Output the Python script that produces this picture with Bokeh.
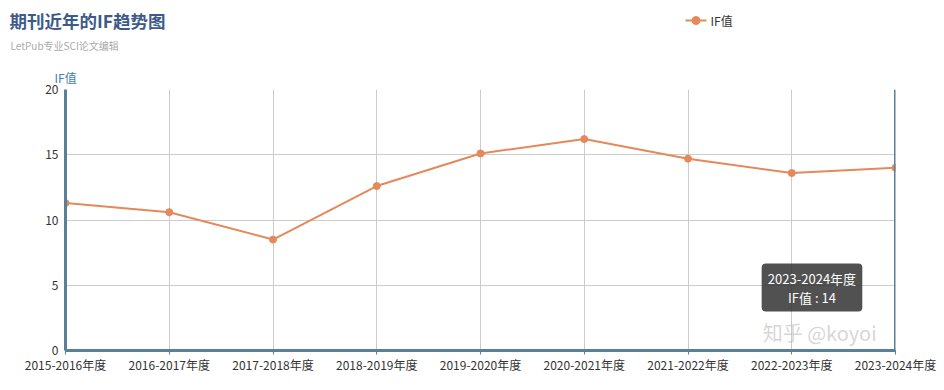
from bokeh.plotting import figure
from bokeh.layouts import column
from bokeh.models import Range1d, FixedTicker, Label, BoxAnnotation, Span, Title
from bokeh.core.properties import value
from bokeh.embed import file_html
from bokeh.resources import INLINE

categories = ["2015-2016年度", "2016-2017年度", "2017-2018年度", "2018-2019年度",
              "2019-2020年度", "2020-2021年度", "2021-2022年度", "2022-2023年度", "2023-2024年度"]
if_values = [11.3, 10.6, 8.5, 12.6, 15.1, 16.2, 14.7, 13.6, 14.0]
y_ticks = [0, 5, 10, 15, 20]
series_name = "IF值"

FONT = "Noto Sans CJK SC"
LINE_C = "#e5895a"
AXIS_C = "#5a8099"
HEAD_H = 62

xs = list(range(len(categories)))

# ---------- header (title, subtitle, legend) ----------
h = figure(width=944, height=HEAD_H, output_backend="svg", toolbar_location=None,
           x_range=Range1d(0, 944), y_range=Range1d(HEAD_H, 0),
           min_border=0, min_border_left=0, min_border_right=0,
           min_border_top=0, min_border_bottom=0)
h.frame_align = False
h.axis.visible = False
h.grid.visible = False
h.outline_line_color = None

h.text(x=[9], y=[20], text=["期刊近年的IF趋势图"], text_font=value(FONT),
       text_font_size="17.5px", text_font_style="bold", text_color="#3d5a8a",
       text_baseline="middle")
h.text(x=[10], y=[45], text=["LetPub专业SCI论文编辑"], text_font=value(FONT),
       text_font_size="10px", text_color="#aaaaaa", text_baseline="middle")
# legend
h.line(x=[685, 706], y=[20, 20], line_color=LINE_C, line_width=2)
h.scatter(x=[695.5], y=[20], size=8, fill_color=LINE_C, line_color=LINE_C)
h.text(x=[710], y=[20], text=[series_name], text_font=value(FONT),
       text_font_size="12px", text_color="#333333", text_baseline="middle")

# ---------- chart ----------
p = figure(width=944, height=390 - HEAD_H, output_backend="svg", toolbar_location=None,
           x_range=Range1d(0, len(categories) - 1), y_range=Range1d(0, 20),
           min_border_left=65, min_border_right=49, min_border_top=89 - HEAD_H,
           min_border_bottom=40)
p.frame_align = False
p.outline_line_color = None

# y-axis name above the axis
p.add_layout(Title(text=series_name, align="left", offset=-11, standoff=7,
                   text_font=FONT, text_font_size="12px", text_font_style="normal",
                   text_color="#3f7fa6"), "above")

p.xgrid.ticker = FixedTicker(ticks=xs)
p.ygrid.ticker = FixedTicker(ticks=y_ticks)
p.xgrid.grid_line_color = "#cccccc"
p.ygrid.grid_line_color = "#cccccc"

p.xaxis.ticker = FixedTicker(ticks=xs)
p.xaxis.major_label_overrides = {i: c for i, c in enumerate(categories)}
p.yaxis.ticker = FixedTicker(ticks=y_ticks)
for ax in (p.xaxis[0], p.yaxis[0]):
    ax.axis_line_color = AXIS_C
    ax.axis_line_width = 3
    ax.minor_tick_line_color = None
    ax.major_label_text_font = FONT
    ax.major_label_text_font_size = "12px"
    ax.major_label_text_color = "#333333"
p.xaxis.major_tick_line_color = AXIS_C
p.xaxis.major_tick_in = 0
p.xaxis.major_tick_out = 4
p.xaxis.major_label_standoff = 1
p.yaxis.major_tick_line_color = None
p.yaxis.major_tick_in = 0
p.yaxis.major_tick_out = 0
p.yaxis.major_label_standoff = 7

# axis pointer at the hovered category
p.add_layout(Span(location=xs[-1], dimension="height", line_color=AXIS_C, line_width=3))

p.line(xs, if_values, line_color=LINE_C, line_width=2)
p.scatter(xs, if_values, size=7, fill_color=LINE_C, line_color=LINE_C)

# tooltip
p.add_layout(BoxAnnotation(left=6.71, right=7.68, bottom=2.99, top=6.67,
                           fill_color="#333333", fill_alpha=0.85, line_color=None,
                           border_radius=4))
p.add_layout(Label(x=7.195, y=5.55, text=categories[-1], text_font=FONT,
                   text_font_size="13px", text_color="white",
                   text_align="center", text_baseline="middle"))
p.add_layout(Label(x=7.195, y=4.05, text="%s : %g" % (series_name, if_values[-1]), text_font=FONT,
                   text_font_size="13px", text_color="white",
                   text_align="center", text_baseline="middle"))

# watermark
p.add_layout(Label(x=6.72, y=0.25, text="知乎 @koyoi", text_font=FONT,
                   text_font_size="20px", text_color="#bbbbbb", text_alpha=0.6,
                   text_align="left", text_baseline="bottom"))

layout = column(h, p, spacing=0)
open("out.html", "w").write(file_html(layout, INLINE))
